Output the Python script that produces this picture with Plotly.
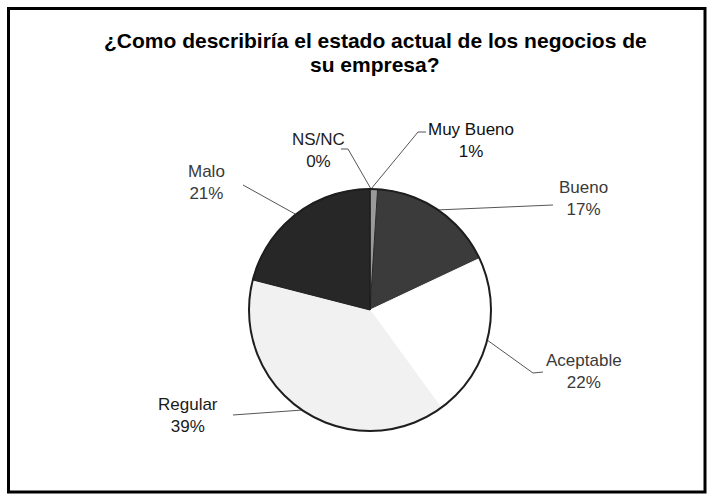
import math
import plotly.graph_objects as go

# ---- data ----
categories = ["Muy Bueno", "Bueno", "Aceptable", "Regular", "Malo", "NS/NC"]
values = [1, 17, 22, 39, 21, 0]
title_lines = ["¿Como describiría el estado actual de los negocios de", "su empresa?"]

# ---- style / layout ----
W, H = 712, 496
CX, CY, R = 370, 310, 121
fills = ["#9a9a9a", "#3b3b3b", "#ffffff", "#f1f1f1", "#272727", "#808080"]
strokes = ["#9a9a9a", "#2a2a2a", "#ffffff", "#f1f1f1", "#1e1e1e", "#1e1e1e"]
# label text centre (px) and elbow point (px) for each category
label_pos = {
    "Muy Bueno": (471, 140),
    "Bueno": (583, 199),
    "Aceptable": (584, 371),
    "Regular": (188, 415),
    "Malo": (206, 183),
    "NS/NC": (318, 150),
}
elbow = {
    "Muy Bueno": [(418, 132), (426, 132)],
    "Bueno": [(553, 205)],
    "Aceptable": [(533, 373), (543, 372)],
    "Regular": [(233, 415)],
    "Malo": [(243, 185)],
    "NS/NC": [(348, 149), (341, 149)],
}
label_colors = {"Muy Bueno": "#111111", "Regular": "#1a1a1a", "NS/NC": "#222222"}


def px(x, y):
    return x / W, 1 - y / H


fig = go.Figure()
fig.add_trace(go.Pie(
    labels=categories, values=values, sort=False, direction="clockwise",
    rotation=0, textinfo="none", hoverinfo="label+percent", showlegend=False,
    marker=dict(colors=fills, line=dict(color=strokes, width=1)),
    domain=dict(x=[(CX - R) / W, (CX + R) / W], y=[1 - (CY + R) / H, 1 - (CY - R) / H]),
))

shapes = []
annotations = []
total = sum(values)
cum = 0
for cat, v in zip(categories, values):
    mid = (cum + v / 2) / total * 2 * math.pi
    cum += v
    if cat in ("Muy Bueno", "NS/NC"):
        ax, ay = CX + 1, CY - R
    else:
        ax, ay = CX + R * math.sin(mid), CY - R * math.cos(mid)
    pts = [(ax, ay)] + elbow[cat]
    path = "M " + " L ".join(f"{px(x, y)[0]:.5f},{px(x, y)[1]:.5f}" for x, y in pts)
    shapes.append(dict(type="path", xref="paper", yref="paper", path=path,
                       line=dict(color="#555555", width=1)))
    lx, ly = label_pos[cat]
    annotations.append(dict(
        x=px(lx, ly)[0], y=px(lx, ly)[1], xref="paper", yref="paper",
        text=f"{cat}<br>{v}%", showarrow=False, xanchor="center", yanchor="middle",
        align="center",
        font=dict(family="Liberation Sans, Arial, sans-serif", size=17,
                  color=label_colors.get(cat, "#3a3a3a")),
    ))

# outer pie outline
shapes.append(dict(type="circle", xref="paper", yref="paper",
                   x0=(CX - R) / W, x1=(CX + R) / W, y0=1 - (CY + R) / H, y1=1 - (CY - R) / H,
                   line=dict(color="#1e1e1e", width=2), layer="above"))
# frame
shapes.append(dict(type="rect", xref="paper", yref="paper",
                   x0=8.5 / W, x1=705 / W, y0=1 - 492 / H, y1=1 - 8.5 / H,
                   line=dict(color="#000000", width=3)))

for i, (t, y) in enumerate(zip(title_lines, [40, 64])):
    annotations.append(dict(
        x=px(375, y)[0], y=px(375, y)[1], xref="paper", yref="paper", text=f"<b>{t}</b>",
        showarrow=False, xanchor="center", yanchor="middle",
        font=dict(family="Liberation Sans, Arial, sans-serif", size=21, color="#000000"),
    ))

fig.update_layout(
    width=W, height=H, margin=dict(l=0, r=0, t=0, b=0),
    paper_bgcolor="#ffffff", plot_bgcolor="#ffffff",
    shapes=shapes, annotations=annotations,
)
fig.write_html("out.html")
